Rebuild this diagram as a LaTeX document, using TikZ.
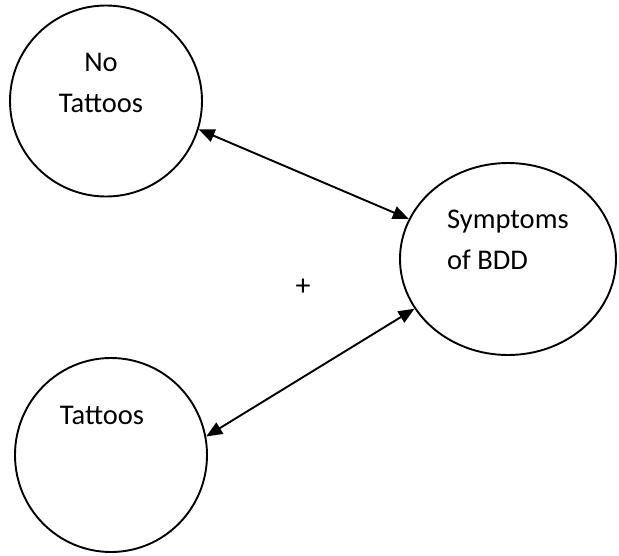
\documentclass[tikz,border=0pt]{standalone}
\usepackage{fontspec}
\setmainfont{Carlito}
\usetikzlibrary{shapes.geometric,arrows.meta}
\begin{document}
\begin{tikzpicture}[x=1pt,y=-1pt,
  blob/.style={draw=black,ellipse,line width=1.9pt,inner sep=0pt},
  lbl/.style={font=\fontsize{28.5}{41}\selectfont,inner sep=0pt},
  link/.style={line width=1.9pt,{Triangle[length=16pt,width=13pt]}-{Triangle[length=16pt,width=13pt]}}]
\useasboundingbox (0,0) rectangle (619,555);
\node[blob,minimum width=192pt,minimum height=191pt] (nt) at (106,101) {};
\node[blob,minimum width=192pt,minimum height=194pt] (tt) at (111,455) {};
\node[blob,minimum width=216pt,minimum height=192pt] (bdd) at (508,259) {};
\node[lbl,align=center] (ntl) at (101,83) {No\\Tattoos};
\node[lbl] (ttl) at (102,415) {Tattoos};
\node[lbl,align=left,anchor=west] (bddl) at (447,240) {Symptoms\\of BDD};
\node[font=\fontsize{30}{34}\selectfont,inner sep=0pt] (plus) at (303,287) {+};
\draw[link] (nt.-17.7) -- (bdd.158);
\draw[link] (bdd.208.6) -- (tt.11.8);
\end{tikzpicture}
\end{document}
